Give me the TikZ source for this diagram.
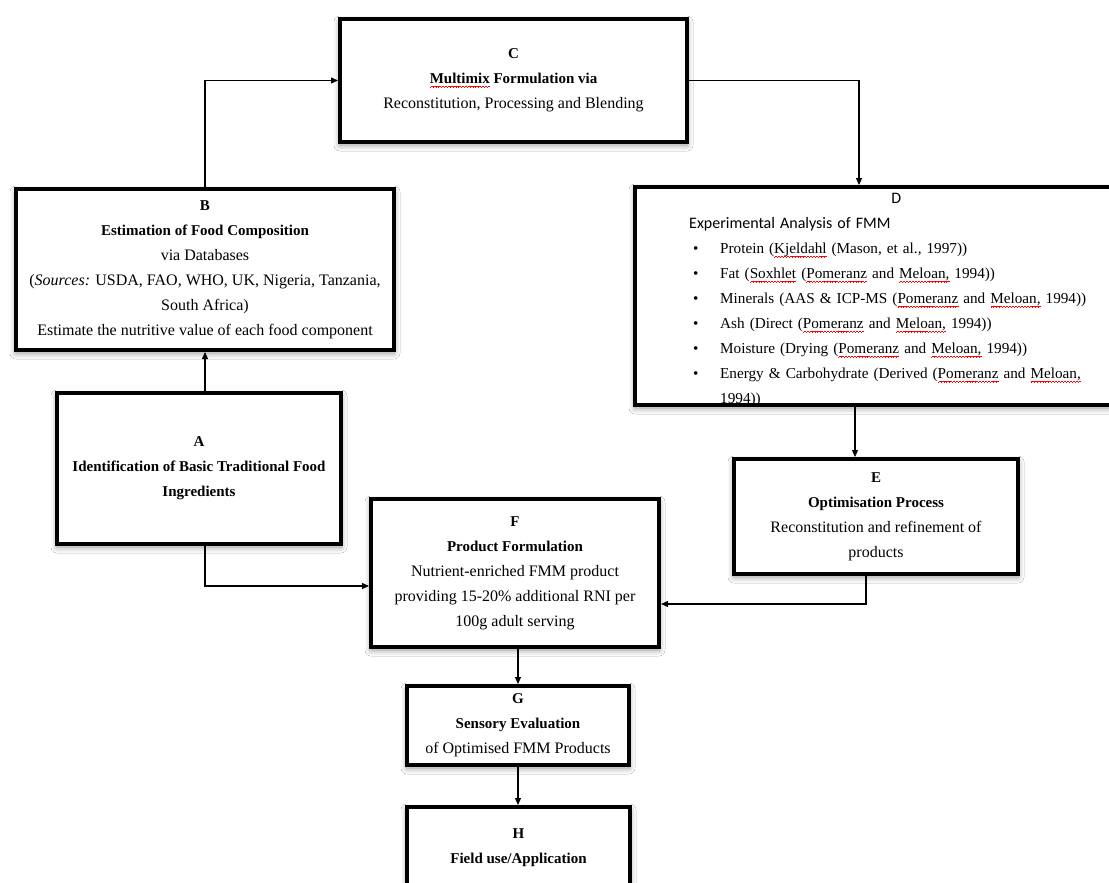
\documentclass[tikz,border=0pt]{standalone}
\usepackage{fontspec}
\setmainfont{Liberation Serif}
\newfontfamily\calfont{Carlito}
\usetikzlibrary{arrows.meta,shadows.blur}

% red wavy underline, as a spell checker marks a word
\newcommand\wavestep[1]{\raise#1\hbox{\vrule width 0.7pt height 0.55pt depth 0pt}}
\newcommand\spellwave[1]{\setbox0=\hbox{#1}%
  \rlap{\lower3.6pt\hbox to \wd0{\color{red}\xleaders\hbox{\wavestep{0pt}\wavestep{0.45pt}\wavestep{0.9pt}\wavestep{0.45pt}}\hfil}}%
  \box0\relax}
\newcommand\hd[1]{{\fontsize{15}{25}\selectfont\bfseries #1}}
\newcommand\itm{\hspace*{4pt}\makebox[27pt][l]{\textbullet}}
\newcommand\sanshd[1]{{\calfont\fontsize{16}{25}\selectfont #1}}

\tikzset{
  box/.style={draw=black, line width=4pt, fill=white, inner sep=0pt,
    align=center, font=\fontsize{16}{25}\selectfont,
    blur shadow={shadow xshift=0pt, shadow yshift=-3pt,
      shadow blur radius=6pt, shadow opacity=45}},
  link/.style={line width=1.2pt, -{Triangle[length=7pt,width=6pt]}}
}

\begin{document}
\begin{tikzpicture}[x=1pt, y=-1pt]
\useasboundingbox (0,0) rectangle (1109,883);
\fill[white] (0,0) rectangle (1109,883);

% process boxes
\node[box, minimum width=347pt, minimum height=123pt] (C) at (513.5,80.5)
  {\hd{C}\\ \hd{\spellwave{Multimix} Formulation via}\\ Reconstitution, Processing and Blending};

\node[box, minimum width=378pt, minimum height=161pt] (B) at (205,269.5)
  {\hd{B}\\ \hd{Estimation of Food Composition}\\ via Databases\\
   (\textit{Sources:} USDA, FAO, WHO, UK, Nigeria, Tanzania,\\ South Africa)\\
   Estimate the nutritive value of each food component};

\node[box, minimum width=284pt, minimum height=151pt] (A) at (199,468.5)
  {\hd{A}\\ \hd{Identification of Basic Traditional Food}\\ \hd{Ingredients}};

\node[box, minimum width=526pt, minimum height=218pt] (D) at (898,296) {};
\node[anchor=north west, inner sep=0pt, text width=414pt, align=left,
      font=\fontsize{15.2}{25}\selectfont, xshift=56pt, yshift=-8pt] (Dtext) at (D.north west)
  {\makebox[414pt]{\sanshd{D}}\\
   \sanshd{Experimental Analysis of FMM}\\
   \itm Protein (\spellwave{Kjeldahl} (Mason, et al., 1997))\\
   \itm Fat (\spellwave{Soxhlet} (\spellwave{Pomeranz} and \spellwave{Meloan,} 1994))\\
   \itm Minerals (AAS \& ICP-MS (\spellwave{Pomeranz} and \spellwave{Meloan,} 1994))\\
   \itm Ash (Direct (\spellwave{Pomeranz} and \spellwave{Meloan,} 1994))\\
   \itm Moisture (Drying (\spellwave{Pomeranz} and \spellwave{Meloan,} 1994))\\
   \itm Energy \& Carbohydrate (Derived (\spellwave{Pomeranz} and \spellwave{Meloan,}\\
   \hspace*{31pt}1994))};

\node[box, minimum width=284pt, minimum height=115pt] (E) at (876,516.5)
  {\hd{E}\\ \hd{Optimisation Process}\\ Reconstitution and refinement of\\ products};

\node[box, minimum width=288pt, minimum height=148pt] (F) at (515,573)
  {\hd{F}\\ \hd{Product Formulation}\\ Nutrient-enriched FMM product\\
   providing 15-20\% additional RNI per\\ 100g adult serving};

\node[box, minimum width=222pt, minimum height=79pt] (G) at (518,725.5)
  {\hd{G}\\ \hd{Sensory Evaluation}\\ of Optimised FMM Products};

\node[box, minimum width=223pt, minimum height=81pt] (H) at (518.5,847.5)
  {\hd{H}\\ \hd{Field use/Application}};

% connectors
\draw[link] (B.north) |- (C.west);
\draw[link] (C.east) -| ([xshift=-39pt]D.north);
\draw[link] (B.south |- A.north) -- (B.south);
\draw[link] ([xshift=-43pt]D.south) -- ([xshift=-43pt]D.south |- E.north);
\draw[link] ([xshift=-10pt]E.south) |- ([yshift=-31pt]F.east);
\draw[link] (A.south -| B.south) |- ([yshift=-13pt]F.west);
\draw[link] (G.north |- F.south) -- (G.north);
\draw[link] (G.south) -- (G.south |- H.north);
\end{tikzpicture}
\end{document}
